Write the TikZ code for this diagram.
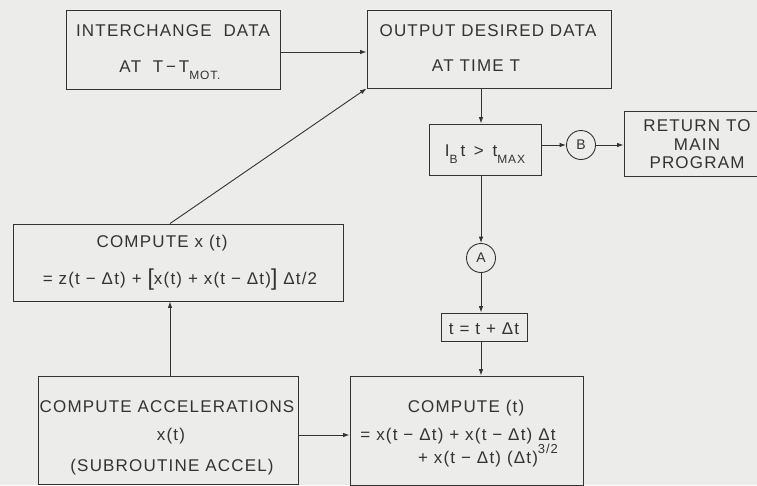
\documentclass[tikz,border=0pt]{standalone}
\usepackage{fontspec}
\setmainfont[LetterSpace=7]{Liberation Sans}
\usetikzlibrary{arrows.meta,calc}
\definecolor{bg}{rgb}{0.925,0.925,0.918}
\definecolor{ink}{rgb}{0.2,0.2,0.2}
\newcommand{\sbx}[1]{\raisebox{-0.42em}{\fontsize{12}{12}\selectfont #1}}
\newcommand{\spx}[1]{\raisebox{0.55em}{\fontsize{13}{13}\selectfont #1}}
\newcommand{\bigbr}[1]{{\fontsize{23}{23}\selectfont\raisebox{-0.06em}{#1}}}
\begin{document}
\begin{tikzpicture}[x=1pt,y=-1pt,
  boxst/.style={draw=ink,line width=0.9pt,inner sep=0pt},
  circst/.style={draw=ink,line width=0.9pt,circle,inner sep=0pt,minimum size=29pt,font=\fontsize{14}{14}\selectfont,text=ink},
  lbl/.style={anchor=base,inner sep=0pt,text=ink,font=\fontsize{17}{20}\selectfont},
  arr/.style={draw=ink,line width=0.9pt,-{Latex[length=6.5pt,width=4.5pt]}},
  ln/.style={draw=ink,line width=0.9pt}]
\fill[bg] (0,0) rectangle (757,485);
\useasboundingbox (0,0) rectangle (757,485);
% boxes
\node[boxst,minimum width=214pt,minimum height=79pt] (inter) at (173,49.5) {};
\node[boxst,minimum width=244pt,minimum height=78pt] (out) at (489,49) {};
\node[boxst,minimum width=112pt,minimum height=51pt] (ib) at (485,149.5) {};
\node[boxst,minimum width=150pt,minimum height=65pt] (ret) at (699,143.5) {};
\node[boxst,minimum width=330pt,minimum height=77pt] (xb) at (178,262.5) {};
\node[boxst,minimum width=260pt,minimum height=108pt] (acc) at (168,430) {};
\node[boxst,minimum width=86pt,minimum height=28pt] (tb) at (484,327) {};
\node[boxst,minimum width=233pt,minimum height=109pt] (ct) at (466.5,430.5) {};
\node[circst] (B) at (581,145) {B};
\node[circst] (A) at (481,258) {A};
% texts
\node[lbl] (t1) at (173,36) {INTERCHANGE\ \ DATA};
\node[lbl] (t2) at (170,72) {AT\ \ T\,−\,T\sbx{MOT.}};
\node[lbl] (t3) at (488,36) {OUTPUT DESIRED DATA};
\node[lbl] (t4) at (476,71) {AT TIME T};
\node[lbl] (t5) at (485,156) {I\sbx{B}\,t\ \,>\ \,t\sbx{MAX}};
\node[lbl] (t6) at (697,131) {RETURN TO};
\node[lbl] (t7) at (697,150) {MAIN};
\node[lbl] (t8) at (697,168) {PROGRAM};
\node[lbl] (t9) at (162,247) {COMPUTE x (t)};
\node[lbl] (t10) at (180,284) {= z(t − Δt) + \bigbr{[}x(t) + x(t − Δt)\bigbr{]} Δt/2};
\node[lbl] (t11) at (167,412) {COMPUTE ACCELERATIONS};
\node[lbl] (t12) at (171,440) {x(t)};
\node[lbl] (t13) at (172,471) {(SUBROUTINE ACCEL)};
\node[lbl] (t14) at (484,334) {t = t + Δt};
\node[lbl] (t15) at (466,412) {COMPUTE (t)};
\node[lbl] (t16) at (458,440) {= x(t − Δt) + x(t − Δt) Δt};
\node[lbl] (t17) at (488,463) {+ x(t − Δt) (Δt)\spx{3/2}};
% connectors
\draw[arr] (inter.east |- 0,52) -- (out.west |- 0,52);
\draw[arr] (out.south -| A) -- (ib.north -| A);
\draw[arr] (ib.south -| A) -- (A.north);
\draw[arr] (A.south) -- (tb.north -| A);
\draw[arr] (tb.south -| A) -- (ct.north -| A);
\draw[arr] (B -| ib.east) -- (B.west);
\draw[arr] (B.east) -- (ret.west |- B);
\draw[arr] (acc.east |- 0,435) -- (ct.west |- 0,435);
\draw[arr] (acc.north -| 170,0) -- (xb.south -| 170,0);
\draw[arr] (xb.north -| 170,0) -- (out.south west);
\end{tikzpicture}
\end{document}
